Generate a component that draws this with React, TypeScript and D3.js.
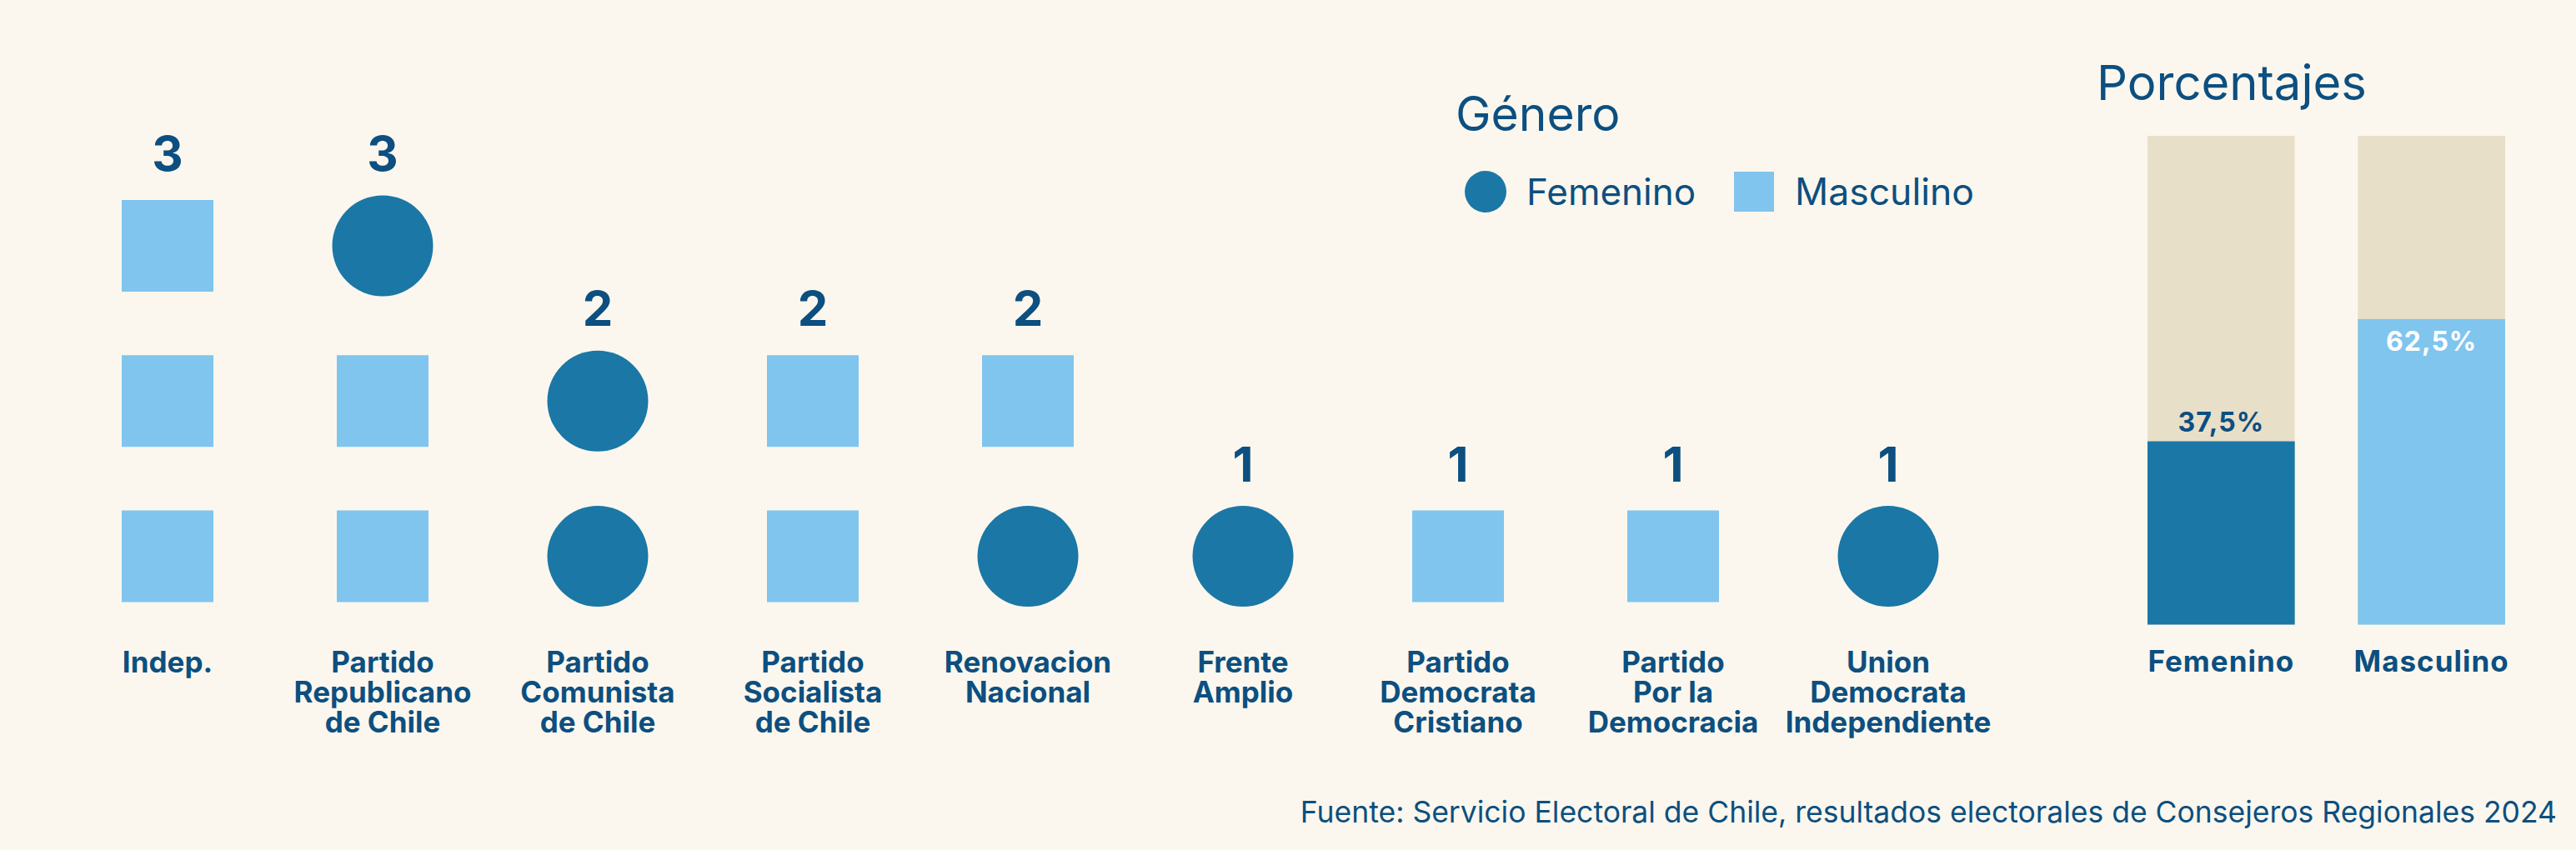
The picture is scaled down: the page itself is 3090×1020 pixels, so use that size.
import React from "react";
import * as d3 from "d3";

const parties = [
  "Indep.",
  "Partido Republicano de Chile",
  "Partido Comunista de Chile",
  "Partido Socialista de Chile",
  "Renovacion Nacional",
  "Frente Amplio",
  "Partido Democrata Cristiano",
  "Partido Por la Democracia",
  "Union Democrata Independiente",
];
const partyLabelLines = [
  ["Indep."],
  ["Partido", "Republicano", "de Chile"],
  ["Partido", "Comunista", "de Chile"],
  ["Partido", "Socialista", "de Chile"],
  ["Renovacion", "Nacional"],
  ["Frente", "Amplio"],
  ["Partido", "Democrata", "Cristiano"],
  ["Partido", "Por la", "Democracia"],
  ["Union", "Democrata", "Independiente"],
];
// stack from bottom to top: F = Femenino, M = Masculino
const partyMembers = [
  ["M", "M", "M"],
  ["M", "M", "F"],
  ["F", "F"],
  ["M", "M"],
  ["F", "M"],
  ["F"],
  ["M"],
  ["M"],
  ["F"],
];
const genders = ["Femenino", "Masculino"];
const genderKeys = ["F", "M"];
const genderPercents = [37.5, 62.5];
const sourceText =
  "Fuente: Servicio Electoral de Chile, resultados electorales de Consejeros Regionales 2024";

const W = 3090;
const H = 1020;
const BG = "#FBF7EE";
const DARK = "#0C4F80";
const FEM = "#1B77A6";
const MASC = "#80C5EE";
const BEIGE = "#E8DFC8";
const FONT = "Inter, 'Noto Sans', sans-serif";

export default function App() {
  const x = d3.scaleBand<string>().domain(parties).range([72, 72 + 258 * 9]).padding(0);
  const y = d3.scaleLinear().domain([0, 1]).range([667.5, 481.25]);
  const sq = 110;
  const r = 60.5;

  const px = d3.scaleBand<string>().domain(genders).range([2576, 3005]).paddingInner(0.3).paddingOuter(0);
  const py = d3.scaleLinear().domain([0, 100]).range([749.5, 163]);
  const colorOf = (k: string) => (k === "F" ? FEM : MASC);

  return (
    <svg
      width={W}
      height={H}
      style={{ position: "absolute", left: 0, top: 0, display: "block" }}
      fontFamily={FONT}
    >
      <rect x={0} y={0} width={W} height={H} fill={BG} />

      {parties.map((p, i) => {
        const cx = (x(p) as number) + x.bandwidth() / 2;
        const members = partyMembers[i];
        return (
          <g key={p}>
            {members.map((m, j) =>
              m === "F" ? (
                <circle key={j} cx={cx} cy={y(j)} r={r} fill={FEM} />
              ) : (
                <rect key={j} x={cx - sq / 2} y={y(j) - sq / 2} width={sq} height={sq} fill={MASC} />
              )
            )}
            <text
              x={cx}
              y={y(members.length - 1) - 90}
              textAnchor="middle"
              fontSize={58}
              fontWeight={700}
              fill={DARK}
            >
              {members.length}
            </text>
            <text textAnchor="middle" fontSize={35} fontWeight={700} fill={DARK}>
              {partyLabelLines[i].map((line, k) => (
                <tspan key={k} x={cx} y={807 + k * 36}>
                  {line}
                </tspan>
              ))}
            </text>
          </g>
        );
      })}

      {/* Legend */}
      <text x={1746} y={157} fontSize={57} fontWeight={400} fill={DARK}>
        Género
      </text>
      <circle cx={1782} cy={230} r={25} fill={FEM} />
      <text x={1831} y={246} fontSize={44} fontWeight={400} fill={DARK}>
        Femenino
      </text>
      <rect x={2080} y={206} width={48} height={48} fill={MASC} />
      <text x={2153} y={246} fontSize={44.5} fontWeight={400} fill={DARK}>
        Masculino
      </text>

      {/* Percentages */}
      <text x={2515} y={120} fontSize={58} fontWeight={400} fill={DARK}>
        Porcentajes
      </text>
      {genders.map((g, i) => {
        const bx = px(g) as number;
        const bw = px.bandwidth();
        const v = genderPercents[i];
        const top = py(v);
        const inside = v >= 50;
        return (
          <g key={g}>
            <rect x={bx} y={py(100)} width={bw} height={py(0) - py(100)} fill={BEIGE} />
            <rect x={bx} y={top} width={bw} height={py(0) - top} fill={colorOf(genderKeys[i])} />
            <text
              x={bx + bw / 2}
              y={inside ? top + 38 : top - 12}
              textAnchor="middle"
              fontSize={32}
              fontWeight={700}
              letterSpacing={1}
              fill={inside ? "#FFFFFF" : DARK}
            >
              {String(v).replace(".", ",") + "%"}
            </text>
            <text
              x={bx + bw / 2}
              y={806}
              textAnchor="middle"
              fontSize={35}
              fontWeight={700}
              letterSpacing={1}
              fill={DARK}
            >
              {g}
            </text>
          </g>
        );
      })}

      <text x={3067} y={987} textAnchor="end" fontSize={35.5} fontWeight={400} fill={DARK}>
        {sourceText}
      </text>
    </svg>
  );
}
